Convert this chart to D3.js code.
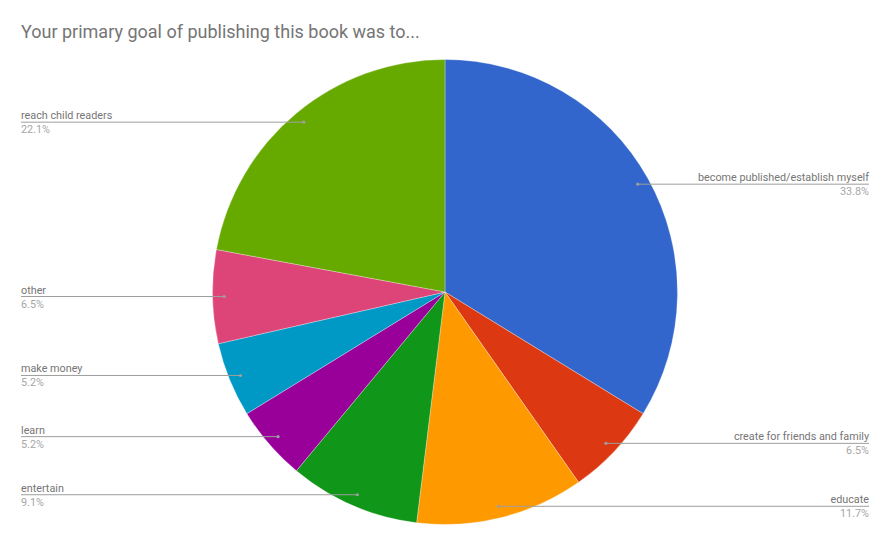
<!DOCTYPE html>
<html lang="en">
<head>
    <meta charset="UTF-8">
    <script src="https://cdnjs.cloudflare.com/ajax/libs/d3/7.8.5/d3.min.js"></script>
    <title>Primary goal pie</title>
    <style>
        body { margin: 0; background: #fff; }
        svg { display: block; font-family: Roboto, sans-serif; }
    </style>
</head>
<body>
    <svg id="chart" width="890" height="546"></svg>
    <script>
        // slices in clockwise order from 12 o'clock
        var labels = ["become published/establish myself", "create for friends and family", "educate",
                      "entertain", "learn", "make money", "other", "reach child readers"];
        var shares = [33.8, 6.5, 11.7, 9.1, 5.2, 5.2, 6.5, 22.1];
        var colours = ["#3366cc", "#dc3912", "#ff9900", "#109618", "#990099", "#0099c6", "#dd4477", "#66aa00"];

        var W = 890, H = 546;
        var cx = 445, cy = 292, r = 232.5;
        var svg = d3.select("#chart");

        svg.append("text")
            .attr("x", 21).attr("y", 38)
            .style("font-size", "18px")
            .style("fill", "#757575")
            .text("Your primary goal of publishing this book was to...");

        var data = labels.map((l, i) => ({ label: l, value: shares[i], colour: colours[i] }));
        var pie = d3.pie().value(d => d.value).sort(null);
        var arcs = pie(data);
        var arc = d3.arc().innerRadius(0).outerRadius(r);
        var dotArc = d3.arc().innerRadius(r * 0.95).outerRadius(r * 0.95);

        var g = svg.append("g").attr("transform", "translate(" + cx + "," + cy + ")");
        g.selectAll("path")
            .data(arcs)
            .enter()
            .append("path")
                .attr("d", arc)
                .style("fill", d => d.data.colour)
                .style("stroke", "#fff")
                .style("stroke-width", "0.3px");

        // labels: horizontal leader from a dot inside the slice to the page edge
        var lab = svg.append("g");
        arcs.forEach(function (d) {
            var p = dotArc.centroid(d);
            var px = cx + p[0], py = cy + p[1];
            var right = (d.startAngle + d.endAngle) / 2 < Math.PI;
            var ex = right ? 869 : 21;
            lab.append("line")
                .attr("x1", px).attr("y1", py).attr("x2", ex).attr("y2", py)
                .style("stroke", "#9e9e9e").style("stroke-width", "1px");
            lab.append("circle")
                .attr("cx", px).attr("cy", py).attr("r", 1.6)
                .style("fill", "#9e9e9e");
            lab.append("text")
                .attr("x", ex).attr("y", py - 3)
                .attr("text-anchor", right ? "end" : "start")
                .style("font-size", "10.8px").style("fill", "#757575")
                .text(d.data.label);
            lab.append("text")
                .attr("x", ex).attr("y", py + 11)
                .attr("text-anchor", right ? "end" : "start")
                .style("font-size", "10.8px").style("fill", "#a6a6a6")
                .text(d.data.value.toFixed(1) + "%");
        });
    </script>
</body>
</html>
